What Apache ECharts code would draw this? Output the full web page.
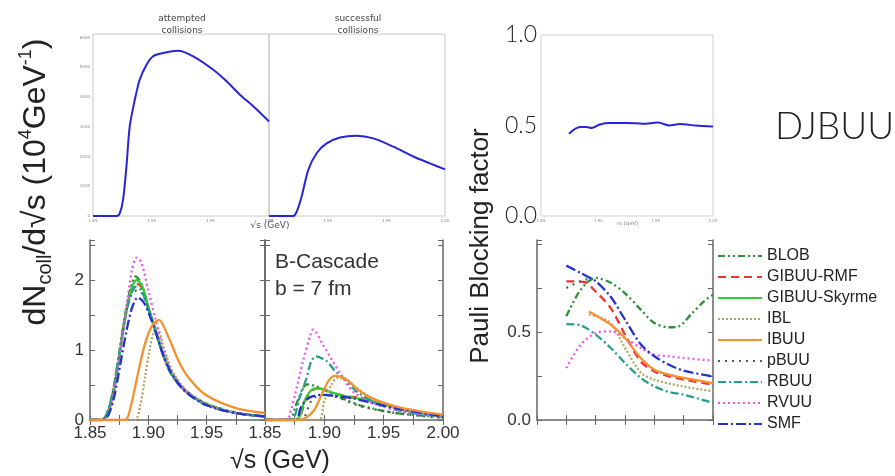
<!DOCTYPE html>
<html>
<head>
<meta charset="utf-8">
<script src="https://cdn.jsdelivr.net/npm/echarts@6/dist/echarts.min.js"></script>
<style>
  html, body { margin: 0; padding: 0; background: #fff; }
  #main { width: 895px; height: 476px; }
</style>
</head>
<body>
<div id="main"></div>
<script>
// top panels (DJBUU, counts)
const attempted = [[1.85,0],[1.870,0],[1.8728,90],[1.8756,540],[1.8785,1660],[1.8813,3010],[1.8856,3900],[1.8898,4580],[1.8955,5080],[1.9012,5370],[1.9098,5480],[1.9226,5560],[1.9354,5370],[1.9525,4920],[1.9639,4530],[1.9752,4080],[1.9866,3690],[2.0,3180]];
const successful = [[1.85,0],[1.8707,0],[1.8736,150],[1.8778,650],[1.8835,1550],[1.8906,2110],[1.8991,2440],[1.9105,2640],[1.9247,2700],[1.9389,2610],[1.956,2330],[1.973,2000],[1.9872,1770],[2.0,1570]];
const djbuuPauli = [[1.8744,0.455],[1.884,0.492],[1.8898,0.492],[1.894,0.486],[1.9014,0.506],[1.910,0.514],[1.9246,0.514],[1.939,0.51],[1.952,0.516],[1.962,0.5],[1.971,0.508],[1.985,0.5],[2.0,0.495]];

// bottom left: attempted, 10^4 GeV^-1
const blobL = [[1.85,0],[1.860,0],[1.865,0.1],[1.870,0.42],[1.875,0.95],[1.880,1.5],[1.885,1.9],[1.889,2.05],[1.894,1.95],[1.900,1.6],[1.906,1.3],[1.912,0.97],[1.920,0.66],[1.932,0.41],[1.950,0.22],[1.975,0.1],[2.000,0.05]];
const rmfL = [[1.85,0],[1.860,0],[1.865,0.1],[1.870,0.4],[1.875,0.9],[1.880,1.45],[1.885,1.82],[1.889,1.95],[1.894,1.9],[1.900,1.6],[1.906,1.28],[1.912,0.96],[1.920,0.65],[1.932,0.41],[1.950,0.22],[1.975,0.1],[2.000,0.05]];
const skyrmeL = [[1.85,0],[1.861,0],[1.866,0.12],[1.871,0.45],[1.876,1.0],[1.881,1.55],[1.886,1.9],[1.890,2.0],[1.895,1.9],[1.900,1.62],[1.906,1.3],[1.912,0.98],[1.920,0.67],[1.932,0.42],[1.950,0.23],[1.975,0.1],[2.000,0.05]];
const iblL = [[1.85,0],[1.888,0],[1.893,0.2],[1.897,0.6],[1.901,1.0],[1.905,1.28],[1.908,1.3],[1.912,1.1],[1.920,0.72],[1.932,0.43],[1.950,0.23],[1.975,0.1],[2.000,0.05]];
const ibuuL = [[1.85,0],[1.880,0],[1.885,0.2],[1.8916,0.7],[1.897,1.08],[1.903,1.34],[1.909,1.43],[1.9176,1.17],[1.926,0.84],[1.9347,0.6],[1.949,0.36],[1.975,0.17],[2.000,0.1]];
const pbuuL = [[1.85,0],[1.860,0],[1.865,0.1],[1.870,0.42],[1.875,0.92],[1.880,1.45],[1.885,1.78],[1.890,1.85],[1.895,1.8],[1.900,1.58],[1.906,1.28],[1.912,0.97],[1.920,0.66],[1.932,0.42],[1.950,0.23],[1.975,0.11],[2.000,0.05]];
const rbuuL = [[1.85,0],[1.860,0],[1.865,0.12],[1.870,0.45],[1.875,0.95],[1.880,1.45],[1.885,1.78],[1.889,1.9],[1.894,1.85],[1.900,1.58],[1.906,1.27],[1.912,0.95],[1.920,0.64],[1.932,0.4],[1.950,0.21],[1.975,0.1],[2.000,0.05]];
const rvuuL = [[1.85,0],[1.862,0],[1.867,0.15],[1.872,0.55],[1.877,1.1],[1.882,1.7],[1.886,2.15],[1.890,2.32],[1.894,2.25],[1.900,1.85],[1.906,1.45],[1.912,1.05],[1.920,0.7],[1.932,0.42],[1.950,0.22],[1.975,0.1],[2.000,0.05]];
const smfL = [[1.85,0],[1.861,0],[1.866,0.08],[1.871,0.35],[1.876,0.8],[1.881,1.25],[1.886,1.6],[1.891,1.75],[1.896,1.68],[1.901,1.5],[1.907,1.22],[1.913,0.92],[1.921,0.63],[1.933,0.39],[1.950,0.21],[1.975,0.1],[2.000,0.05]];

// bottom middle: successful
const blobM = [[1.85,0],[1.870,0],[1.876,0.21],[1.882,0.46],[1.886,0.51],[1.893,0.48],[1.902,0.41],[1.918,0.29],[1.932,0.2],[1.960,0.1],[2.000,0.04]];
const rmfM = [[1.85,0],[1.876,0],[1.885,0.31],[1.8905,0.43],[1.896,0.46],[1.904,0.41],[1.918,0.34],[1.932,0.31],[1.946,0.24],[1.966,0.15],[2.000,0.05]];
const skyrmeM = [[1.85,0],[1.876,0],[1.884,0.3],[1.890,0.44],[1.896,0.45],[1.905,0.4],[1.920,0.33],[1.935,0.29],[1.950,0.22],[1.970,0.14],[2.000,0.05]];
const iblM = [[1.85,0],[1.895,0],[1.900,0.27],[1.906,0.5],[1.911,0.6],[1.916,0.6],[1.927,0.46],[1.944,0.27],[1.966,0.15],[2.000,0.05]];
const ibuuM = [[1.85,0],[1.879,0],[1.8905,0.12],[1.899,0.41],[1.904,0.57],[1.909,0.63],[1.918,0.58],[1.932,0.39],[1.946,0.27],[1.966,0.17],[2.000,0.076]];
const pbuuM = [[1.85,0],[1.880,0],[1.890,0.3],[1.900,0.36],[1.910,0.33],[1.930,0.2],[1.960,0.1],[2.000,0.03]];
const rbuuM = [[1.85,0],[1.872,0],[1.879,0.31],[1.885,0.6],[1.889,0.84],[1.893,0.91],[1.902,0.84],[1.909,0.7],[1.916,0.6],[1.927,0.41],[1.944,0.24],[1.966,0.12],[2.000,0.05]];
const rvuuM = [[1.85,0],[1.868,0],[1.872,0.15],[1.876,0.41],[1.882,0.84],[1.888,1.2],[1.8905,1.29],[1.899,1.07],[1.907,0.84],[1.914,0.65],[1.924,0.41],[1.941,0.24],[1.966,0.12],[2.000,0.05]];
const smfM = [[1.85,0],[1.876,0],[1.880,0.17],[1.885,0.29],[1.8905,0.34],[1.899,0.36],[1.910,0.34],[1.924,0.31],[1.941,0.24],[1.966,0.15],[2.000,0.05]];

// bottom right: Pauli blocking factor
const blobR = [[1.875,0.589],[1.8872,0.74],[1.900,0.807],[1.9128,0.78],[1.925,0.72],[1.9384,0.627],[1.950,0.551],[1.9625,0.527],[1.971,0.532],[1.981,0.598],[1.9923,0.674],[2.000,0.712]];
const rmfR = [[1.875,0.788],[1.890,0.784],[1.900,0.73],[1.9128,0.636],[1.925,0.485],[1.9384,0.333],[1.950,0.276],[1.9625,0.248],[1.975,0.23],[1.9866,0.216],[2.000,0.2]];
const iblR = [[1.8943,0.6],[1.905,0.58],[1.9128,0.55],[1.925,0.41],[1.9384,0.27],[1.950,0.229],[1.975,0.19],[2.000,0.163]];
const ibuuR = [[1.8943,0.617],[1.9128,0.542],[1.925,0.466],[1.9384,0.352],[1.950,0.286],[1.9625,0.258],[1.975,0.239],[2.000,0.21]];
const pbuuR = [[1.875,0.75],[1.8872,0.79],[1.893,0.8]];
const rbuuR = [[1.875,0.545],[1.8872,0.538],[1.900,0.485],[1.9128,0.409],[1.925,0.324],[1.9384,0.239],[1.950,0.191],[1.9625,0.159],[1.975,0.144],[2.000,0.097]];
const rvuuR = [[1.875,0.295],[1.8872,0.428],[1.900,0.494],[1.9128,0.504],[1.925,0.466],[1.9384,0.409],[1.950,0.371],[1.9625,0.362],[1.975,0.352],[2.000,0.337]];
const smfR = [[1.875,0.877],[1.8872,0.835],[1.900,0.788],[1.9128,0.70],[1.925,0.57],[1.9384,0.43],[1.950,0.362],[1.9625,0.314],[1.975,0.28],[2.000,0.248]];

const models = ['BLOB', 'GIBUU-RMF', 'GIBUU-Skyrme', 'IBL', 'IBUU', 'pBUU', 'RBUU', 'RVUU', 'SMF'];

const styles = {
    'BLOB':         { color: '#2f8f3a', type: [7, 3, 2, 3, 2, 3] },
    'GIBUU-RMF':    { color: '#ee3333', type: [8, 5] },
    'GIBUU-Skyrme': { color: '#33cc33', type: 'solid' },
    'IBL':          { color: '#b0a860', type: [2, 2] },
    'IBUU':         { color: '#f59030', type: 'solid' },
    'pBUU':         { color: '#3d6e4a', type: [2, 5] },
    'RBUU':         { color: '#2a9c8c', type: [8, 3, 2, 3] },
    'RVUU':         { color: '#ee55ee', type: [2, 3] },
    'SMF':          { color: '#2233cc', type: [10, 3, 2, 3] }
};

const sans = 'Liberation Sans, Arial, sans-serif';
const mpl = 'DejaVu Sans, sans-serif';

const line = (name, data, idx) => ({
    name: name,
    type: 'line',
    xAxisIndex: idx,
    yAxisIndex: idx,
    data: data,
    symbol: 'none',
    smooth: 0.3,
    silent: true,
    lineStyle: { color: styles[name].color, type: styles[name].type, width: 2.3 },
    itemStyle: { color: styles[name].color },
    z: name === 'IBUU' ? 4 : 3
});

const blue = (data, idx) => ({
    type: 'line', xAxisIndex: idx, yAxisIndex: idx, data: data,
    symbol: 'none', smooth: 0.3, silent: true,
    lineStyle: { color: '#2626d8', width: 2 }
});

const tinyX = (idx) => ({
    gridIndex: idx, type: 'value', min: 1.85, max: 2.0, interval: 0.05,
    axisLine: { show: false }, axisTick: { show: false }, splitLine: { show: false },
    axisLabel: { fontSize: 4, color: '#888', margin: 3, fontFamily: mpl, formatter: v => v.toFixed(2) }
});

const botX = (idx, hideLast, labels) => ({
    gridIndex: idx, type: 'value', min: 1.85, max: 2.0, interval: 0.025,
    axisLine: { lineStyle: { color: '#666', width: 1.5 } },
    axisTick: { inside: true, length: 5, lineStyle: { color: '#666' } },
    splitLine: { show: false },
    axisLabel: {
        show: labels, fontSize: 17, color: '#333', margin: 5, fontFamily: sans,
        formatter: v => {
            const r = Math.round(v * 1000) / 1000;
            if (Math.abs(r * 20 - Math.round(r * 20)) > 1e-6) return '';
            if (hideLast && r >= 2.0) return '';
            return r.toFixed(2);
        }
    }
});

const topTicks = (idx) => ({
    gridIndex: idx, type: 'value', min: 1.85, max: 2.0, interval: 0.025, position: 'top',
    axisLine: { show: false },
    axisTick: { inside: true, length: 5, lineStyle: { color: '#666' } },
    axisLabel: { show: false }, splitLine: { show: false }
});

const sideY = (idx, max, interval, pos, fmt) => ({
    gridIndex: idx, type: 'value', min: 0, max: max, interval: interval, position: pos,
    axisLine: { show: true, lineStyle: { color: '#666', width: 1.5 } },
    axisTick: { show: true, inside: true, length: 5, lineStyle: { color: '#666' } },
    splitLine: { show: false },
    axisLabel: fmt ? { fontSize: 17, color: '#333', margin: 6, fontFamily: sans, formatter: fmt } : { show: false }
});

const config = () => ({
    backgroundColor: '#fff',
    animation: false,
    grid: [
        { left: 93, top: 34, width: 176, height: 182, show: true, borderColor: '#c8c8c8', borderWidth: 1 },
        { left: 269, top: 34, width: 176, height: 182, show: true, borderColor: '#c8c8c8', borderWidth: 1 },
        { left: 541, top: 35, width: 172, height: 181, show: true, borderColor: '#d0d0d0', borderWidth: 1 },
        { left: 90, top: 240, width: 175, height: 180 },
        { left: 265, top: 240, width: 178, height: 180 },
        { left: 537, top: 240, width: 176, height: 180 }
    ],
    xAxis: [
        tinyX(0), tinyX(1), tinyX(2),
        botX(3, true, true), botX(4, false, true), botX(5, false, false),
        topTicks(3), topTicks(4), topTicks(5)
    ],
    yAxis: [
        { gridIndex: 0, type: 'value', min: 0, max: 6120, interval: 1000,
          axisLine: { show: false }, axisTick: { show: false }, splitLine: { show: false },
          axisLabel: { fontSize: 4, color: '#888', margin: 3, fontFamily: mpl, formatter: v => v % 1000 === 0 ? v : '' } },
        { gridIndex: 1, type: 'value', min: 0, max: 6120, show: false },
        { gridIndex: 2, type: 'value', min: 0, max: 1, interval: 0.5,
          axisLine: { show: false }, axisTick: { show: false }, splitLine: { show: false },
          axisLabel: { fontSize: 23, color: '#222', margin: 4, fontFamily: 'Lato, ' + sans, fontWeight: 300, formatter: v => v.toFixed(1) } },
        sideY(3, 2.571, 0.5, 'left', v => Number.isInteger(v) ? String(v) : ''),
        sideY(4, 2.571, 0.5, 'left', null),
        sideY(5, 1.0227, 0.25, 'left', v => (Math.abs(v) < 1e-9 || Math.abs(v - 0.5) < 1e-9) ? v.toFixed(1) : ''),
        sideY(3, 2.571, 0.5, 'right', null),
        sideY(4, 2.571, 0.5, 'right', null),
        sideY(5, 1.0227, 0.25, 'right', null)
    ],
    legend: {
        orient: 'vertical', left: 712, top: 243,
        itemWidth: 44, itemHeight: 12, itemGap: 5,
        itemStyle: { opacity: 0 },
        textStyle: { fontSize: 16, color: '#222', fontFamily: sans },
        data: models
    },
    graphic: [
        { type: 'text', x: 182, y: 13, style: { text: 'attempted\ncollisions', fontSize: 9, lineHeight: 12, fill: '#444', align: 'center', fontFamily: mpl } },
        { type: 'text', x: 358, y: 13, style: { text: 'successful\ncollisions', fontSize: 9, lineHeight: 12, fill: '#444', align: 'center', fontFamily: mpl } },
        { type: 'text', x: 270, y: 221, style: { text: '√s (GeV)', fontSize: 9, fill: '#555', align: 'center', fontFamily: mpl } },
        { type: 'text', x: 627, y: 221, style: { text: '√s (GeV)', fontSize: 5, fill: '#777', align: 'center', fontFamily: mpl } },
        { type: 'text', x: 775, y: 127, style: { text: 'DJBUU', fontSize: 37, fill: '#222', fontWeight: 300, verticalAlign: 'middle', fontFamily: 'Lato, ' + sans } },
        { type: 'text', x: 275, y: 249, style: { text: 'B-Cascade\nb = 7 fm', fontSize: 21, lineHeight: 27, fill: '#333', fontFamily: sans } },
        { type: 'text', x: 280, y: 461, style: { text: '√s (GeV)', fontSize: 25, fill: '#222', align: 'center', verticalAlign: 'middle', fontFamily: sans } },
        { type: 'text', x: 481, y: 246, rotation: Math.PI / 2,
          style: { text: 'Pauli Blocking factor', fontSize: 26, fill: '#222', align: 'center', verticalAlign: 'middle', fontFamily: sans } },
        { type: 'text', x: 36, y: 182, rotation: Math.PI / 2,
          style: {
              text: '{m|dN}{s|coll}{m|/d√s (10}{p|4}{m|GeV}{p|-1}{m|)}',
              align: 'center', verticalAlign: 'middle',
              rich: {
                  m: { fontSize: 32, lineHeight: 38, fill: '#222', fontFamily: sans, verticalAlign: 'middle' },
                  s: { fontSize: 20, lineHeight: 38, fill: '#222', fontFamily: sans, verticalAlign: 'bottom' },
                  p: { fontSize: 18, lineHeight: 38, fill: '#222', fontFamily: sans, verticalAlign: 'top' }
              }
          } }
    ],
    series: [
        blue(attempted, 0),
        blue(successful, 1),
        blue(djbuuPauli, 2),
        line('BLOB', blobL, 3), line('GIBUU-RMF', rmfL, 3), line('GIBUU-Skyrme', skyrmeL, 3),
        line('IBL', iblL, 3), line('IBUU', ibuuL, 3), line('pBUU', pbuuL, 3),
        line('RBUU', rbuuL, 3), line('RVUU', rvuuL, 3), line('SMF', smfL, 3),
        line('BLOB', blobM, 4), line('GIBUU-RMF', rmfM, 4), line('GIBUU-Skyrme', skyrmeM, 4),
        line('IBL', iblM, 4), line('IBUU', ibuuM, 4), line('pBUU', pbuuM, 4),
        line('RBUU', rbuuM, 4), line('RVUU', rvuuM, 4), line('SMF', smfM, 4),
        line('BLOB', blobR, 5), line('GIBUU-RMF', rmfR, 5),
        line('IBL', iblR, 5), line('IBUU', ibuuR, 5), line('pBUU', pbuuR, 5),
        line('RBUU', rbuuR, 5), line('RVUU', rvuuR, 5), line('SMF', smfR, 5)
    ]
});

const myChart = echarts.init(document.getElementById('main'), null, { renderer: 'canvas' });
myChart.setOption(config());
</script>
</body>
</html>
